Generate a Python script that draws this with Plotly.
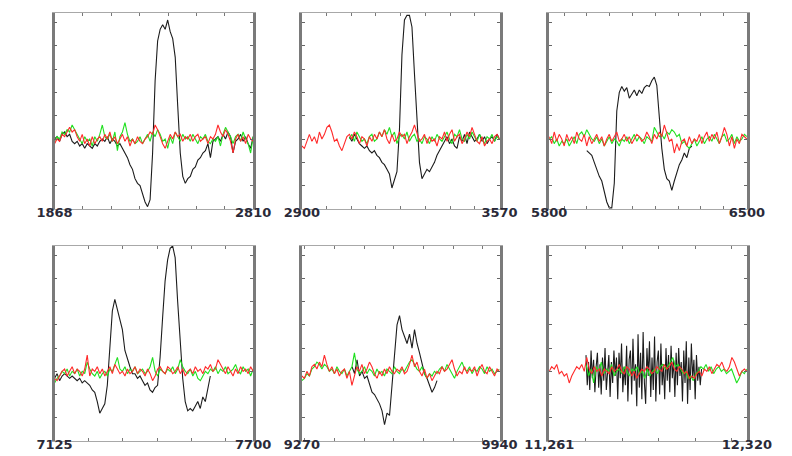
import numpy as np
import plotly.graph_objects as go

# panel x ranges (sample index) and end labels
x_ranges = [(1868, 2810), (2900, 3570), (5800, 6500), (7125, 7700), (9270, 9940), (11261, 12320)]
x_labels = [("1868", "2810"), ("2900", "3570"), ("5800", "6500"),
            ("7125", "7700"), ("9270", "9940"), ("11,261", "12,320")]

# black trace (sample span + values), one per panel
black_spans = [(1868, 2810), (3061, 3570), (5933, 6305), (7125, 7576), (9440, 9728), (11458, 12077)]
black = [
    [0.0, 0.1, -0.1, 0.2, 0.3, 0.1, 0.2, -0.1, -0.2, -0.1, -0.3, -0.2, -0.4, -0.2, -0.3, -0.4,
     -0.2, -0.3, -0.1, 0.0, -0.1, 0.1, -0.2, 0.0, -0.1, -0.3, -0.2, -0.4, -0.6, -0.8, -1.1, -1.3,
     -1.7, -1.9, -2.0, -2.4, -2.7, -2.9, -2.6, -0.6, 2.5, 4.2, 4.7, 4.9, 4.7, 5.1, 4.6, 4.3, 3.5,
     1.4, -0.6, -1.6, -1.9, -1.7, -1.6, -1.3, -1.2, -0.9, -0.8, -0.6, -0.5, -0.2, -0.8, -0.1, 0.0,
     0.1, -0.1, 0.2, 0.0, 0.3, 0.1, -0.6, -0.1, 0.0, 0.2, -0.1, 0.1, -0.2, -0.4, 0.1],
    [0.1, -0.1, 0.2, 0.0, -0.2, -0.3, -0.4, -0.3, -0.5, -0.6, -0.5, -0.7, -0.8, -1.0, -1.1, -1.3,
     -1.5, -2.1, -1.7, -1.4, 0.4, 3.6, 5.1, 5.3, 5.3, 4.8, 2.8, 0.6, -1.0, -1.7, -1.5, -1.3, -1.4,
     -1.2, -1.0, -0.7, -0.5, -0.3, -0.1, 0.1, -0.2, 0.0, -0.3, -0.4, 0.1, -0.1, 0.2, -0.2, 0.3,
     0.1, -0.1, 0.0, 0.2, -0.1, 0.1, -0.2, 0.0, 0.1, -0.1, 0.2, 0.0],
    [-0.5, -0.6, -0.7, -1.0, -1.3, -1.6, -1.8, -2.3, -2.7, -2.95, -2.95, -1.9, 1.2, 2.0, 2.25,
     2.05, 2.2, 1.75, 1.95, 2.1, 1.85, 2.1, 1.95, 2.2, 2.3, 2.25, 2.5, 2.65, 2.3, 0.8, -0.4, -1.3,
     -1.7, -1.8, -2.2, -1.8, -1.4, -1.1, -0.9, -0.6, -0.8, -0.4, -0.3],
    [-0.3, -0.1, -0.4, -0.2, -0.1, -0.2, -0.3, -0.2, -0.3, -0.4, -0.3, -0.5, -0.4, -0.5, -0.6,
     -0.8, -0.9, -1.3, -1.8, -1.6, -1.4, -0.6, 1.1, 2.6, 3.1, 2.7, 2.3, 1.8, 0.9, 0.5, 0.2, -0.1,
     -0.1, -0.3, -0.2, -0.4, -0.6, -0.5, -0.8, -0.9, -0.7, -0.6, 0.6, 2.3, 3.9, 4.8, 5.3, 5.4, 4.9,
     3.0, 1.4, -0.3, -1.3, -1.7, -1.6, -1.7, -1.5, -1.3, -1.6, -1.1, -1.3, -0.8, -0.2],
    [0.2, -0.1, 0.5, -0.2, 0.0, -0.3, -0.2, -0.6, -0.9, -1.0, -1.2, -1.4, -1.7, -2.3, -1.8, -1.9,
     -0.6, 0.8, 2.0, 2.4, 1.8, 1.5, 1.2, 1.6, 1.0, 1.8, 1.2, 0.8, 0.3, -0.1, -0.3, -0.6, -0.9,
     -0.7, -0.4],
    [0.7, -0.6, 0.4, -0.8, 0.9, -0.3, 0.5, -0.9, 0.2, 0.8, -0.7, 0.3, -1.0, 0.6, -0.4, 1.0, -0.8,
     0.1, 0.7, -1.1, 0.4, -0.5, 0.9, -0.2, 0.6, -1.2, 0.8, -0.3, 1.2, -0.9, 0.2, -0.6, 1.1, -1.3,
     0.5, 0.9, -1.0, 1.4, -0.4, 0.3, -1.5, 1.6, -0.7, 0.8, -1.2, 1.7, -0.5, -1.4, 1.0, -0.2, 1.3,
     -1.1, 0.6, -0.8, 1.5, -1.3, 0.4, 0.9, -1.0, 1.2, -0.6, 0.3, -1.2, 1.0, -0.4, 0.7, -0.9, 1.1,
     -0.3, 0.5, -1.1, 0.8, -0.6, 1.0, -0.2, 0.4, -1.3, 0.9, -0.5, 1.3, -1.4, 0.6, -0.8, 1.2, -0.3,
     0.5, -1.2, 0.7, -0.4, 0.2, -0.6, 0.1],
]

# green trace
green_spans = [(1868, 2810), (3061, 3570), (5800, 6500), (7125, 7700), (9270, 9940), (11458, 12320)]
green = [
    [-0.1, 0.1, 0.0, 0.3, 0.2, 0.4, 0.3, 0.6, 0.4, 0.2, 0.0, -0.2, 0.1, -0.1, 0.0, -0.3, 0.1, -0.1,
     0.2, 0.6, 0.1, 0.0, 0.2, -0.1, 0.3, -0.5, 0.1, 0.3, 0.7, 0.2, -0.1, 0.0, -0.2, -0.1, 0.1,
     -0.2, 0.0, 0.2, -0.1, 0.3, 0.1, 0.4, 0.2, -0.1, 0.0, -0.4, 0.1, -0.2, 0.3, 0.1, -0.1, 0.2,
     0.0, 0.1, -0.1, 0.2, 0.0, -0.2, 0.1, 0.0, 0.2, -0.1, -0.2, 0.0, -0.1, 0.1, -0.3, 0.2, 0.5,
     0.3, 0.1, -0.2, 0.1, 0.2, -0.1, 0.3, 0.0, -0.2, -0.6, 0.1],
    [0.0, 0.2, -0.1, 0.3, 0.1, -0.1, 0.0, -0.2, 0.1, 0.2, -0.1, 0.0, 0.3, 0.1, 0.4, 0.2, 0.5, 0.1,
     0.3, -0.2, 0.1, 0.2, 0.0, 0.3, -0.1, 0.1, 0.2, -0.1, 0.0, -0.2, 0.1, 0.0, -0.2, 0.1, -0.1,
     0.2, 0.0, -0.1, 0.1, 0.3, 0.0, -0.2, 0.2, 0.1, 0.4, 0.0, -0.1, 0.2, 0.0, 0.3, 0.1, -0.1, 0.2,
     0.0, -0.2, 0.1, 0.0, 0.2, -0.1, 0.1, 0.0],
    [0.0, 0.1, -0.2, 0.0, -0.3, -0.1, -0.2, 0.0, -0.3, -0.1, 0.1, -0.2, 0.2, 0.3, 0.1, 0.4, 0.2,
     0.0, -0.1, 0.1, -0.2, 0.0, -0.3, -0.1, 0.1, -0.2, 0.0, -0.1, -0.3, 0.0, -0.1, 0.1, -0.2, 0.0,
     0.2, -0.1, 0.1, 0.0, -0.2, 0.1, 0.0, -0.1, 0.5, 0.3, 0.1, 0.2, 0.0, 0.3, 0.2, 0.4, 0.3, 0.1,
     0.2, -0.2, -0.1, -0.3, -0.4, -0.2, 0.0, -0.3, -0.1, 0.1, -0.2, 0.0, 0.1, -0.1, 0.2, 0.0, -0.2,
     0.1, 0.2, -0.1, 0.0, 0.2, -0.2, 0.1, -0.1, 0.0, 0.2, 0.1],
    [-0.5, -0.3, -0.2, 0.0, -0.1, 0.1, -0.2, 0.0, -0.1, 0.1, -0.2, 0.0, -0.1, 0.4, 0.1, -0.1, -0.2,
     0.0, -0.3, -0.1, 0.0, -0.2, 0.1, 0.0, 0.3, 0.6, 0.1, 0.0, 0.2, -0.1, 0.1, 0.0, 0.2, -0.1, 0.0,
     0.1, -0.1, 0.0, 0.2, 0.6, 0.0, -0.2, 0.1, 0.0, -0.1, 0.1, 0.0, 0.2, -0.1, 0.1, 0.5, 0.2, 0.0,
     -0.1, 0.1, -0.2, 0.0, -0.3, -0.4, -0.2, 0.0, -0.1, 0.1, 0.0, 0.2, -0.1, 0.1, 0.0, 0.2, -0.1,
     0.0, 0.1, 0.3, 0.0, -0.1, 0.2, 0.0, 0.1, -0.2, 0.1],
    [-0.4, -0.3, -0.1, -0.2, 0.1, 0.2, 0.4, 0.3, 0.1, 0.3, 0.2, 0.0, 0.1, -0.1, 0.2, 0.0, -0.1,
     0.1, -0.2, 0.0, 0.2, 0.8, 0.1, -0.1, 0.0, 0.2, -0.1, 0.1, 0.0, -0.2, 0.1, -0.1, 0.0, -0.2,
     0.1, 0.0, -0.1, 0.2, 0.0, -0.1, 0.1, 0.0, 0.2, 0.4, 0.5, 0.3, 0.1, 0.0, 0.2, -0.1, -0.3, -0.1,
     -0.2, 0.0, -0.1, 0.1, 0.2, 0.0, 0.3, 0.1, -0.1, -0.3, 0.0, 0.2, 0.4, 0.1, 0.0, 0.2, -0.1, 0.1,
     0.0, 0.2, 0.1, -0.1, 0.2, 0.0, 0.1, -0.1, 0.0, 0.1],
    [0.3, -0.2, 0.1, -0.5, 0.2, 0.0, 0.4, -0.1, 0.1, 0.0, 0.3, -0.2, 0.0, 0.1, -0.1, 0.2, 0.0,
     -0.2, 0.1, 0.0, 0.2, -0.1, 0.0, -0.3, 0.1, -0.2, 0.0, 0.1, -0.1, 0.2, 0.3, 0.1, 0.2, 0.4, 0.6,
     0.2, 0.3, 0.1, -0.1, 0.0, -0.3, -0.2, -0.4, -0.1, 0.0, 0.2, 0.1, 0.3, 0.0, 0.2, -0.1, 0.1,
     0.2, 0.0, 0.1, -0.1, 0.0, 0.1, -0.2, -0.5, -0.3, 0.0, -0.1, 0.1],
]

# red trace, always over the whole panel
red = [
    [-0.2, 0.0, -0.1, 0.2, 0.1, 0.3, 0.5, 0.3, 0.4, 0.1, -0.1, 0.2, -0.2, 0.0, -0.3, 0.1, -0.2,
     0.0, 0.1, -0.1, 0.2, 0.0, 0.3, -0.1, 0.1, -0.2, 0.0, 0.2, -0.1, 0.1, -0.3, 0.0, -0.2, 0.1,
     -0.1, -0.2, 0.0, 0.1, 0.3, 0.2, 0.6, 0.4, 0.1, -0.2, -0.4, -0.1, 0.2, 0.0, 0.3, 0.1, 0.2, -0.1,
     0.1, 0.0, 0.2, -0.1, 0.1, 0.2, -0.1, 0.0, 0.1, -0.2, 0.1, 0.0, 0.2, 0.6, 0.3, 0.1, 0.4, 0.2,
     -0.1, -0.6, 0.0, 0.2, -0.1, 0.1, -0.2, 0.2, 0.0, -0.1],
    [-0.3, -0.4, -0.1, 0.2, -0.1, 0.1, -0.2, 0.3, 0.0, 0.2, 0.5, 0.6, 0.3, -0.1, 0.0, -0.3, -0.5,
     -0.2, 0.1, 0.2, 0.0, 0.3, 0.1, -0.2, 0.1, 0.0, -0.3, 0.1, -0.1, 0.2, 0.0, 0.3, 0.1, 0.4, 0.0,
     -0.2, 0.2, -0.1, 0.0, 0.3, 0.1, 0.2, -0.2, 0.1, 0.3, 0.6, 0.2, -0.1, 0.0, 0.2, -0.2, 0.1, -0.1,
     0.0, -0.3, 0.1, 0.0, 0.3, -0.1, 0.2, 0.4, -0.1, 0.1, 0.2, -0.2, 0.0, 0.3, 0.1, 0.5, 0.2, -0.1,
     -0.2, 0.1, -0.3, -0.1, 0.0, -0.2, 0.1, 0.2, 0.0],
    [0.1, -0.2, 0.3, -0.1, 0.2, 0.0, -0.3, 0.2, -0.1, 0.1, -0.2, 0.3, 0.0, -0.1, 0.2, -0.3, 0.1,
     -0.2, 0.0, 0.2, -0.1, 0.1, -0.3, 0.0, 0.2, -0.1, 0.1, 0.3, -0.1, 0.0, 0.2, -0.1, 0.1, -0.2,
     0.0, 0.2, 0.1, -0.1, 0.0, 0.3, 0.1, -0.2, 0.2, 0.0, 0.3, 0.1, 0.6, 0.2, -0.1, 0.0, -0.6, -0.2,
     -0.5, -0.1, 0.0, -0.3, 0.1, -0.2, 0.0, -0.1, 0.2, -0.2, 0.1, 0.3, -0.1, 0.2, 0.0, 0.3, -0.2,
     0.1, 0.5, 0.2, -0.3, 0.1, -0.4, 0.0, -0.2, 0.2, 0.1, 0.0],
    [-0.3, -0.4, -0.2, 0.0, 0.1, -0.2, 0.0, 0.2, -0.1, 0.1, 0.0, -0.2, 0.1, 0.7, -0.2, 0.1, 0.0,
     0.2, -0.1, 0.1, -0.2, 0.0, 0.2, -0.1, 0.3, 0.1, -0.1, 0.0, -0.2, 0.1, -0.1, 0.0, 0.2, -0.1,
     0.1, 0.0, -0.2, 0.1, -0.1, -0.4, -0.2, 0.1, 0.2, 0.0, -0.1, 0.2, 0.1, -0.1, 0.0, 0.2, -0.1,
     0.1, -0.2, 0.0, 0.1, -0.1, 0.2, 0.0, 0.1, -0.1, 0.2, 0.1, 0.3, 0.0, 0.1, 0.5, 0.3, 0.1, -0.1,
     0.2, 0.0, -0.2, 0.1, -0.1, 0.2, 0.0, 0.1, -0.1, 0.2, 0.0],
    [-0.2, -0.3, 0.0, -0.2, 0.2, 0.3, 0.1, 0.4, 0.2, 0.7, 0.3, 0.0, 0.2, -0.1, 0.1, -0.2, 0.0, 0.1,
     -0.3, 0.0, -0.6, -0.2, 0.2, 0.0, 0.3, -0.1, 0.1, 0.4, 0.2, -0.1, -0.3, 0.0, -0.2, 0.1, -0.1,
     0.2, 0.0, -0.1, 0.1, 0.0, 0.2, -0.1, 0.0, 0.3, 0.7, 0.2, 0.4, 0.0, -0.2, 0.1, -0.3, -0.1, -0.4,
     -0.2, 0.0, -0.1, 0.2, 0.0, 0.1, 0.3, 0.5, 0.1, -0.2, 0.0, -0.1, 0.2, -0.1, 0.1, 0.0, 0.2, -0.2,
     0.1, 0.3, 0.0, -0.1, 0.2, 0.0, -0.2, 0.1, 0.0],
    [0.0, 0.2, 0.1, 0.3, -0.1, 0.0, -0.2, -0.1, -0.5, -0.2, 0.0, 0.2, 0.1, 0.3, 0.0, 0.6, 0.1,
     -0.1, 0.2, 0.0, 0.1, -0.2, 0.1, 0.0, -0.1, 0.2, 0.0, 0.1, 0.3, 0.0, -0.1, 0.2, 0.1, -0.2, 0.0,
     -0.3, -0.1, 0.1, 0.0, 0.2, 0.1, -0.1, 0.0, 0.2, 0.1, 0.0, 0.3, 0.1, 0.2, 0.4, 0.1, 0.0, 0.2,
     0.1, -0.1, 0.0, -0.3, -0.2, -0.3, -0.1, 0.0, -0.2, 0.1, 0.0, 0.2, -0.1, 0.1, 0.3, 0.2, 0.4,
     0.1, 0.0, 0.2, 0.6, 0.4, 0.1, -0.2, 0.0, 0.1, 0.0],
]

# unlabeled tick marks: (first tick, spacing)
minor_ticks = [(1868, 134.6), (2900, 83.7), (5853, 80.7), (7224, 99), (9381, 100.5), (11455, 196)]

x_domains = [(23 / 792, 235 / 792), (287 / 792, 498 / 792), (551 / 792, 762 / 792)]
y_domains = [(1 - 201 / 456, 1 - 5 / 456), (1 - 433 / 456, 1 - 238 / 456)]

fig = go.Figure()
layout = {}
for k in range(6):
    row, col = divmod(k, 3)
    n = "" if k == 0 else str(k + 1)
    xa, ya = "x" + n, "y" + n
    x0, x1 = x_ranges[k]
    traces = [
        (black_spans[k], black[k], "#1c1c1c"),
        (green_spans[k], green[k], "#1fe01f"),
        ((x0, x1), red[k], "#ff2b2b"),
    ]
    for (s0, s1), vals, color in traces:
        fig.add_trace(go.Scatter(
            x=np.linspace(s0, s1, len(vals)), y=vals, mode="lines",
            line=dict(color=color, width=1.1), xaxis=xa, yaxis=ya,
            showlegend=False, hoverinfo="skip",
        ))
    t0, dt = minor_ticks[k]
    layout["xaxis" + n] = dict(
        domain=x_domains[col], anchor=ya, range=[x0, x1],
        tickmode="array", tickvals=[x0, x1], ticktext=list(x_labels[k]),
        ticks="inside", ticklen=3, tickcolor="#777", showgrid=False, zeroline=False,
        showline=True, linecolor="#a8a8a8", linewidth=1, mirror="ticks",
        minor=dict(tick0=t0, dtick=dt, ticks="inside", ticklen=3, tickcolor="#777"),
        tickfont=dict(family="DejaVu Sans", size=13, color="#2a2a38", weight="bold"),
        ticklabelstandoff=-9,
        fixedrange=True,
    )
    layout["yaxis" + n] = dict(
        domain=y_domains[row], anchor=xa, range=[-3.0, 5.4],
        tick0=0, dtick=1, ticks="inside", ticklen=3, tickcolor="#666",
        showticklabels=False, showgrid=False, zeroline=False,
        showline=True, linecolor="#7a7a7a", linewidth=2.5, mirror="ticks",
        fixedrange=True,
    )

fig.update_layout(
    width=792, height=456,
    margin=dict(l=0, r=0, t=0, b=0),
    paper_bgcolor="white", plot_bgcolor="white",
    **layout,
)
fig.write_html("out.html")
